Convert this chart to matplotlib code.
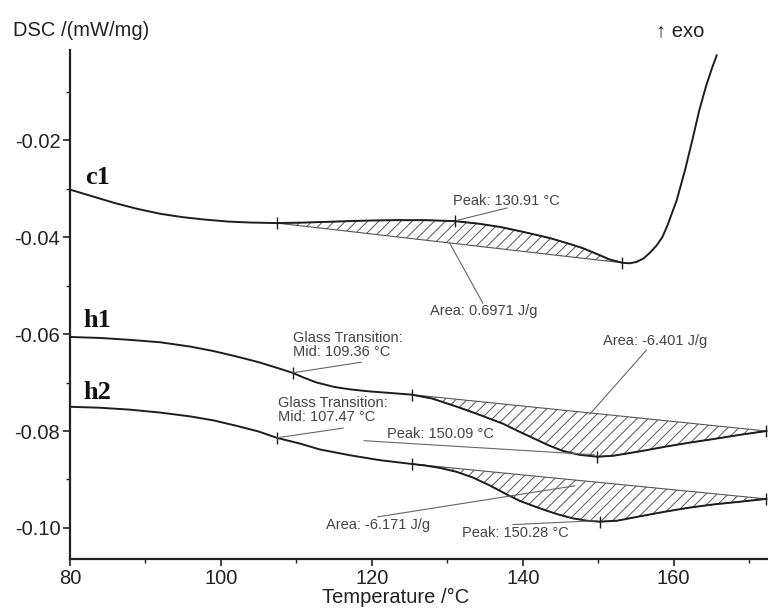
import matplotlib
matplotlib.use("Agg")
import matplotlib.pyplot as plt
from matplotlib.ticker import MultipleLocator, FormatStrFormatter

plt.rcParams['font.family'] = ['Liberation Sans', 'DejaVu Sans']
plt.rcParams['axes.unicode_minus'] = False
plt.rcParams['hatch.linewidth'] = 0.7
plt.rcParams['hatch.color'] = '#555555'

# Data (temperature in C, DSC signal in mW/mg)
c1_t = [80, 83, 86, 89, 92, 95, 98, 101, 104, 107.4, 111, 115, 119, 123, 127, 131,
        134, 137, 140, 143.6, 146, 148, 150, 151.5, 153.2, 154.2, 155.1, 156, 156.8,
        157.7, 158.5, 159.2, 160.4, 161.5, 162.5, 163.4, 164.3, 165, 165.7]
c1_y = [-0.0302, -0.0316, -0.0330, -0.0342, -0.0352, -0.0359, -0.0364, -0.0368, -0.0370,
        -0.0371, -0.0370, -0.0368, -0.0366, -0.0365, -0.0365, -0.0367, -0.0372, -0.0379,
        -0.0389, -0.0402, -0.0413, -0.0423, -0.0436, -0.0446, -0.0453, -0.0454, -0.0451,
        -0.0444, -0.0433, -0.0418, -0.0400, -0.0375, -0.0324, -0.0262, -0.0198, -0.0138,
        -0.0088, -0.0055, -0.0025]

h1_t = [80, 84, 88, 92, 96, 99, 102, 105, 107.5, 109.5, 111, 112.7, 115, 117.1, 119.5,
        122, 125.3, 128, 131.3, 134, 137.4, 139.5, 141.3, 143.5, 145.3, 147.5, 149.9,
        152, 155.5, 159, 162.1, 165.5, 168.7, 172.3]
h1_y = [-0.0606, -0.0608, -0.0612, -0.0617, -0.0626, -0.0635, -0.0646, -0.0658, -0.0670,
        -0.0680, -0.0690, -0.0700, -0.0709, -0.0714, -0.0718, -0.0721, -0.0725, -0.0733,
        -0.0750, -0.0765, -0.0785, -0.0801, -0.0814, -0.0830, -0.0841, -0.0849, -0.0853,
        -0.0851, -0.0842, -0.0832, -0.0824, -0.0816, -0.0808, -0.0800]

h2_t = [80, 84, 88, 92, 96, 99, 102, 105, 107.4, 110.5, 113.1, 117.1, 121, 125.3, 127,
        129, 131.2, 133.4, 135.6, 137.9, 139.6, 141.3, 143.1, 144.9, 146.6, 148.5, 150.2,
        152.5, 155.5, 159, 162.1, 165.5, 168.7, 172.3]
h2_y = [-0.0750, -0.0752, -0.0756, -0.0762, -0.0770, -0.0778, -0.0789, -0.0801, -0.0814,
        -0.0826, -0.0838, -0.0850, -0.0860, -0.0868, -0.0871, -0.0876, -0.0884, -0.0896,
        -0.0912, -0.0931, -0.0944, -0.0954, -0.0964, -0.0973, -0.0980, -0.0985, -0.0987,
        -0.0985, -0.0976, -0.0966, -0.0958, -0.0951, -0.0946, -0.0940]

# evaluation markers
c1_marks_t = [107.4, 131, 153.2]
c1_marks_y = [-0.0371, -0.0367, -0.0453]
h1_marks_t = [109.5, 125.3, 149.9, 172.3]
h1_marks_y = [-0.0680, -0.0725, -0.0853, -0.0800]
h2_marks_t = [107.4, 125.3, 150.2, 172.3]
h2_marks_y = [-0.0814, -0.0868, -0.0987, -0.0940]

# peak area limits (start, end temperature)
c1_area = (107.4, 153.2)
h1_area = (125.3, 172.3)
h2_area = (125.3, 172.3)

# annotation texts with anchor (left x, center y) and leader lines
notes = ["Peak: 130.91 °C", "Area: 0.6971 J/g", "Glass Transition:\nMid: 109.36 °C",
         "Glass Transition:\nMid: 107.47 °C", "Area: -6.401 J/g", "Peak: 150.09 °C",
         "Area: -6.171 J/g", "Peak: 150.28 °C"]
notes_x = [130.7, 127.7, 109.5, 107.5, 150.6, 122.0, 113.9, 131.9]
notes_y = [-0.0326, -0.0553, -0.0623, -0.0757, -0.0614, -0.0806, -0.0994, -0.1010]
leaders_x = [(137.9, 131.4), (134.7, 130.3), (118.6, 109.5), (116.2, 107.4),
             (156.4, 148.9), (119.0, 149.5), (120.8, 146.9), (138.7, 149.8)]
leaders_y = [(-0.0340, -0.0365), (-0.0536, -0.0412), (-0.0658, -0.0680), (-0.0794, -0.0814),
             (-0.0633, -0.0765), (-0.0820, -0.0849), (-0.0977, -0.0913), (-0.0993, -0.0985)]

labels = ["c1", "h1", "h2"]
labels_y = [-0.0278, -0.0573, -0.0721]

fig = plt.figure(figsize=(7.68, 6.08), dpi=100)
ax = fig.add_axes([70 / 768, 49 / 608, 698 / 768, 509 / 608])

curves = [(c1_t, c1_y, c1_area), (h1_t, h1_y, h1_area), (h2_t, h2_y, h2_area)]
for t, y, (a0, a1) in curves:
    seg = [(ti, yi) for ti, yi in zip(t, y) if a0 <= ti <= a1]
    ax.fill([p[0] for p in seg], [p[1] for p in seg], facecolor='none',
            edgecolor='#555555', hatch='///', linewidth=0.8, zorder=2)
    ax.plot(t, y, color='#1e1e1e', lw=1.4, zorder=3)

for mt, my in [(c1_marks_t, c1_marks_y), (h1_marks_t, h1_marks_y), (h2_marks_t, h2_marks_y)]:
    ax.plot(mt, my, ls='none', marker='|', ms=9, mew=1.0, color='#1e1e1e', zorder=4)

for txt, tx, ty, lx, ly in zip(notes, notes_x, notes_y, leaders_x, leaders_y):
    ax.text(tx, ty, txt, fontsize=10.5, color='#444444', ha='left', va='center',
            linespacing=1.05, zorder=5)
    ax.plot(lx, ly, color='#666666', lw=0.8, zorder=4)

for lab, ly in zip(labels, labels_y):
    ax.text(83.6, ly, lab, fontsize=19, fontweight='bold', family='Liberation Serif',
            ha='center', va='center', color='#111111')

ax.set_xlim(80, 172.5)
ax.set_ylim(-0.1064, -0.0014)
ax.set_yticks([-0.10, -0.08, -0.06, -0.04, -0.02])
ax.yaxis.set_major_formatter(FormatStrFormatter('%.2f'))
ax.set_xticks([80, 100, 120, 140, 160])
ax.xaxis.set_minor_locator(MultipleLocator(10))
ax.yaxis.set_minor_locator(MultipleLocator(0.01))
ax.tick_params(which='major', direction='out', length=5, width=1.2, labelsize=14.5,
               colors='#222222', pad=2)
ax.tick_params(which='minor', direction='out', length=3, width=1.0, colors='#222222')
ax.spines['top'].set_visible(False)
ax.spines['right'].set_visible(False)
for s in ['left', 'bottom']:
    ax.spines[s].set_linewidth(1.6)
    ax.spines[s].set_color('#222222')

ax.set_xlabel('Temperature /°C', fontsize=14.5, color='#222222')
ax.xaxis.set_label_coords(0.466, -0.056)
fig.text(13 / 768, 1 - 30 / 608, 'DSC /(mW/mg)', fontsize=14.5, color='#222222',
         ha='left', va='center')
fig.text(680 / 768, 1 - 31 / 608, '↑ exo', fontsize=14.5, color='#222222',
         ha='center', va='center')

fig.savefig('out.png', dpi=100)
